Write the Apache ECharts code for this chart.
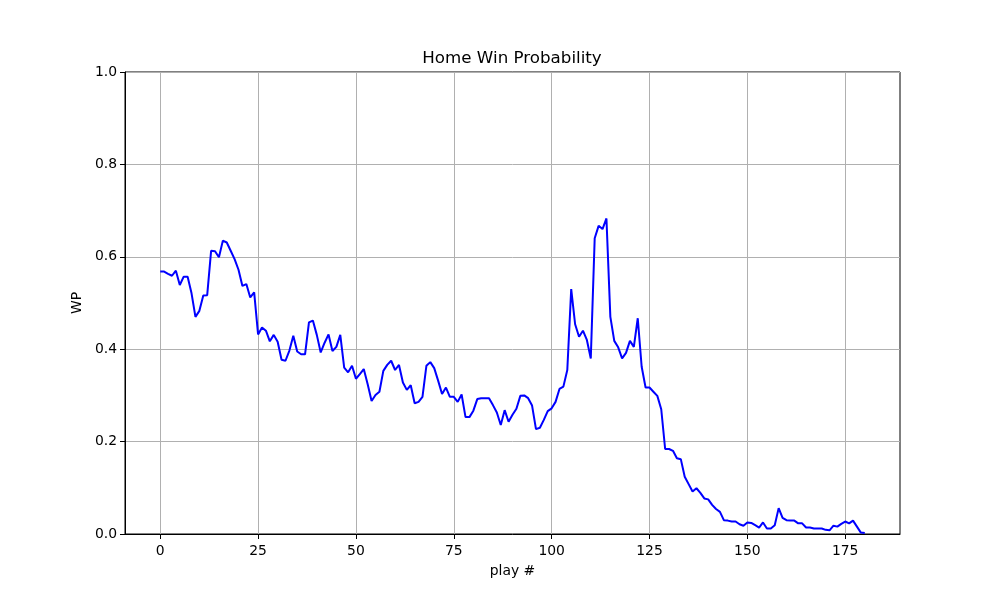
<!DOCTYPE html>
<html>
<head>
<meta charset="utf-8">
<script src="https://cdn.jsdelivr.net/npm/echarts@6/dist/echarts.min.js"></script>
<style>
  html, body { margin: 0; padding: 0; background: #fff; }
  #chart { width: 1000px; height: 600px; }
</style>
</head>
<body>
<div id="chart"></div>
<script>
// win probability per play, index = play #
var wp = [
    0.568, 0.568, 0.563, 0.559, 0.570, 0.539, 0.557, 0.557, 0.521, 0.470,
    0.483, 0.516, 0.517, 0.613, 0.612, 0.599, 0.635, 0.631, 0.613, 0.595,
    0.572, 0.537, 0.541, 0.512, 0.523, 0.432, 0.447, 0.440, 0.417, 0.431,
    0.416, 0.377, 0.375, 0.397, 0.429, 0.395, 0.389, 0.389, 0.458, 0.462,
    0.431, 0.393, 0.414, 0.432, 0.396, 0.405, 0.431, 0.360, 0.350, 0.364,
    0.336, 0.346, 0.357, 0.324, 0.288, 0.301, 0.308, 0.353, 0.366, 0.375,
    0.355, 0.366, 0.328, 0.312, 0.322, 0.283, 0.286, 0.297, 0.364, 0.372,
    0.359, 0.332, 0.303, 0.317, 0.297, 0.297, 0.286, 0.302, 0.253, 0.253,
    0.267, 0.292, 0.294, 0.294, 0.294, 0.279, 0.263, 0.236, 0.268, 0.243,
    0.258, 0.271, 0.299, 0.300, 0.294, 0.278, 0.227, 0.230, 0.247, 0.266,
    0.272, 0.286, 0.314, 0.319, 0.355, 0.530, 0.454, 0.427, 0.440, 0.420,
    0.380, 0.640, 0.667, 0.660, 0.683, 0.470, 0.418, 0.404, 0.380, 0.392,
    0.418, 0.405, 0.467, 0.362, 0.317, 0.317, 0.308, 0.299, 0.270, 0.184,
    0.184, 0.180, 0.164, 0.162, 0.124, 0.108, 0.092, 0.099, 0.089, 0.077,
    0.075, 0.063, 0.054, 0.048, 0.030, 0.029, 0.027, 0.027, 0.021, 0.018,
    0.025, 0.024, 0.019, 0.014, 0.025, 0.012, 0.012, 0.019, 0.056, 0.035,
    0.030, 0.029, 0.029, 0.023, 0.023, 0.014, 0.014, 0.012, 0.012, 0.012,
    0.009, 0.008, 0.018, 0.016, 0.022, 0.027, 0.023, 0.029, 0.016, 0.003,
    0.002
];
var xTicks = [0, 25, 50, 75, 100, 125, 150, 175];

var FONT = "DejaVu Sans";
var chart = echarts.init(document.getElementById("chart"));

var option = {
    animation: false,
    backgroundColor: "#fff",
    textStyle: { fontFamily: FONT },
    graphic: [
        {
            type: "text",
            x: 512,
            y: 59,
            style: {
                text: "Home Win Probability",
                align: "center",
                verticalAlign: "middle",
                font: '16.7px "DejaVu Sans"',
                fill: "#000"
            }
        }
    ],
    grid: {
        left: 125,
        right: 100,
        top: 72,
        bottom: 66,
        show: true,
        borderColor: "#000",
        borderWidth: 1
    },
    xAxis: {
        type: "value",
        min: -9,
        max: 189,
        name: "play #",
        nameLocation: "middle",
        nameGap: 30,
        nameTextStyle: { fontFamily: FONT, fontSize: 13.9, color: "#000" },
        axisLine: { show: true, onZero: false, lineStyle: { color: "#000" } },
        axisTick: { show: true, length: 5, customValues: xTicks, lineStyle: { color: "#000" } },
        axisLabel: { customValues: xTicks, fontFamily: FONT, fontSize: 13.9, color: "#000", margin: 10 },
        splitLine: { show: false }
    },
    yAxis: {
        type: "value",
        min: 0,
        max: 1,
        interval: 0.2,
        name: "WP",
        nameLocation: "middle",
        nameGap: 40,
        nameTextStyle: { fontFamily: FONT, fontSize: 13.9, color: "#000" },
        axisLine: { show: true, onZero: false, lineStyle: { color: "#000" } },
        axisTick: { show: true, length: 5, lineStyle: { color: "#000" } },
        axisLabel: {
            fontFamily: FONT, fontSize: 13.9, color: "#000", margin: 8,
            formatter: function (v) { return v.toFixed(1); }
        },
        splitLine: { show: true, lineStyle: { color: "#b0b0b0", width: 1 } }
    },
    series: [
        {
            // vertical grid lines at the x ticks
            type: "line",
            data: [],
            z: 1,
            markLine: {
                silent: true,
                symbol: "none",
                z: 1,
                label: { show: false },
                lineStyle: { color: "#b0b0b0", width: 1, type: "solid" },
                data: xTicks.map(function (t) { return { xAxis: t }; })
            }
        },
        {
            name: "WP",
            type: "line",
            z: 10,
            showSymbol: false,
            lineStyle: { color: "#0000ff", width: 2 },
            itemStyle: { color: "#0000ff" },
            data: wp.map(function (v, i) { return [i, v]; })
        }
    ]
};

chart.setOption(option);
</script>
</body>
</html>
